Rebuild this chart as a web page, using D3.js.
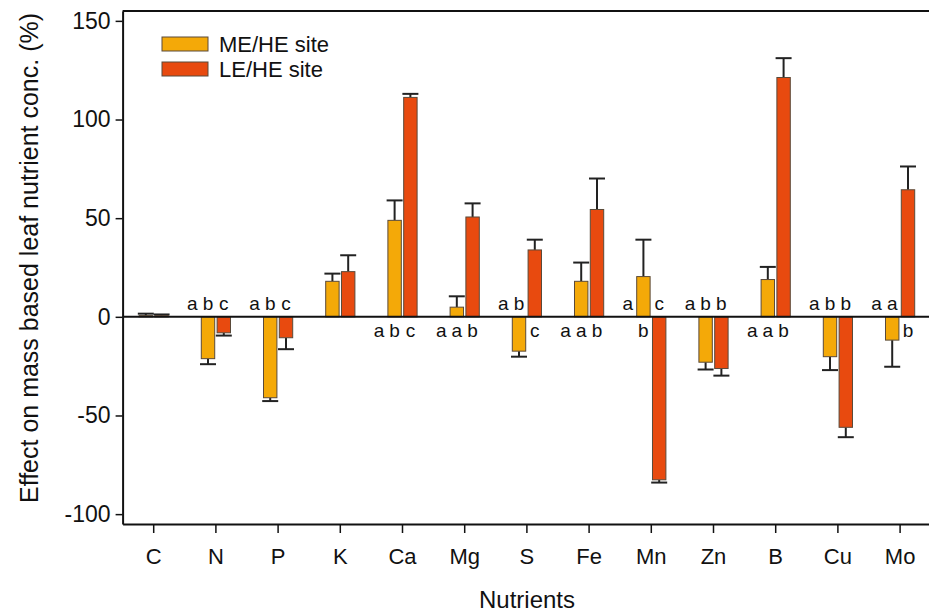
<!DOCTYPE html>
<html>
<head>
<meta charset="utf-8">
<script src="https://cdn.jsdelivr.net/npm/d3@7"></script>
<style>
  html, body { margin: 0; padding: 0; background: #fff; }
  svg text { font-family: "Liberation Sans", Arial, sans-serif; fill: #111; }
</style>
</head>
<body>
<svg id="chart" width="929" height="614"></svg>
<script>
// Nutrients on the x axis
const nutrients = ["C", "N", "P", "K", "Ca", "Mg", "S", "Fe", "Mn", "Zn", "B", "Cu", "Mo"];

// Effect (%) relative to the HE site, with one-sided standard errors
const meValues = [0.6, -21.2, -41.0, 18.0, 48.9, 4.9, -17.4, 18.0, 20.4, -23.0, 18.9, -20.2, -11.8];
const meErrors = [1.0, 2.8, 1.7, 3.9, 10.1, 5.5, 2.8, 9.5, 18.7, 3.7, 6.4, 6.8, 13.5];
const leValues = [0.6, -8.1, -10.6, 22.9, 111.2, 50.6, 33.9, 54.4, -82.6, -26.2, 121.3, -56.0, 64.4];
const leErrors = [0.6, 1.4, 5.8, 8.3, 1.8, 6.9, 5.2, 15.7, 1.4, 3.6, 9.8, 5.0, 11.8];

// Significance letters: [HE, ME, LE]
const letters = [
  null, ["a", "b", "c"], ["a", "b", "c"], null, ["a", "b", "c"], ["a", "a", "b"],
  ["a", "b", "c"], ["a", "a", "b"], ["a", "b", "c"], ["a", "b", "b"], ["a", "a", "b"],
  ["a", "b", "b"], ["a", "a", "b"]
];

const yTicks = [150, 100, 50, 0, -50, -100];
const seriesNames = ["ME/HE site", "LE/HE site"];
const seriesColors = ["#F4A908", "#E84A0F"];

const svg = d3.select("#chart");
const plotLeft = 122.6, plotTop = 11, plotBottom = 524, plotRight = 931.2;

const x = d3.scaleBand().domain(nutrients).range([plotLeft, plotRight]).padding(0);
const sub = d3.scaleBand().domain([0, 1]).range([-14.6, 14.6]).paddingInner(0.15);
const y = d3.scaleLinear().domain([-105, 155]).range([plotBottom, plotTop]);

const rows = nutrients.map((n, i) => ({
  n, i,
  bars: [
    { s: 0, v: meValues[i], e: meErrors[i] },
    { s: 1, v: leValues[i], e: leErrors[i] }
  ]
}));

// Bar groups, one per nutrient
const groups = svg.append("g").selectAll("g").data(rows).join("g")
  .attr("transform", d => `translate(${x(d.n) + x.bandwidth() / 2},0)`);

// Error bars (drawn away from zero, behind the bar body)
groups.selectAll("g.err").data(d => d.bars).join("g").attr("class", "err")
  .each(function (b) {
    const g = d3.select(this);
    const cx = sub(b.s) + sub.bandwidth() / 2;
    const end = b.v >= 0 ? b.v + b.e : b.v - b.e;
    g.append("line").attr("x1", cx).attr("x2", cx).attr("y1", y(b.v)).attr("y2", y(end))
      .attr("stroke", "#222").attr("stroke-width", 2);
    g.append("line").attr("x1", cx - 8).attr("x2", cx + 8).attr("y1", y(end)).attr("y2", y(end))
      .attr("stroke", "#222").attr("stroke-width", 2);
  });

groups.selectAll("rect").data(d => d.bars).join("rect")
  .attr("x", b => sub(b.s))
  .attr("width", sub.bandwidth())
  .attr("y", b => y(Math.max(0, b.v)))
  .attr("height", b => Math.abs(y(b.v) - y(0)))
  .attr("fill", b => seriesColors[b.s])
  .attr("stroke", "#5a4a3a")
  .attr("stroke-width", 1);

// Significance letters, placed on the side opposite to each bar
const letterG = svg.append("g").attr("font-size", 19);
rows.forEach(r => {
  const L = letters[r.i];
  if (!L) return;
  const cx = x(r.n) + x.bandwidth() / 2;
  const me = r.bars[0].v, le = r.bars[1].v;
  const heAbove = (me < 0 && le < 0) || (me * le < 0);
  const pos = [
    { t: L[0], dx: -23.5, above: heAbove },
    { t: L[1], dx: sub(0) + sub.bandwidth() / 2, above: me < 0 },
    { t: L[2], dx: sub(1) + sub.bandwidth() / 2, above: le < 0 }
  ];
  pos.forEach(p => {
    letterG.append("text")
      .attr("x", cx + p.dx)
      .attr("y", p.above ? y(0) - 7 : y(0) + 20)
      .attr("text-anchor", "middle")
      .text(p.t);
  });
});

// Zero reference line
svg.append("line").attr("x1", plotLeft).attr("x2", 929).attr("y1", y(0)).attr("y2", y(0))
  .attr("stroke", "#111").attr("stroke-width", 2);

// Frame top line
svg.append("line").attr("x1", plotLeft).attr("x2", 929).attr("y1", plotTop).attr("y2", plotTop)
  .attr("stroke", "#111").attr("stroke-width", 2);

// Y axis (plain hyphen for negative labels)
const yAxis = svg.append("g").attr("transform", `translate(${plotLeft},0)`)
  .call(d3.axisLeft(y).tickValues(yTicks).tickFormat(d => String(d))
    .tickSize(7).tickSizeOuter(0).tickPadding(5));
yAxis.select(".domain").attr("stroke", "#111").attr("stroke-width", 2);
yAxis.selectAll(".tick line").attr("stroke", "#111").attr("stroke-width", 1.5);
yAxis.selectAll(".tick text").attr("font-size", 23).attr("font-family", null).attr("fill", "#111");

// X axis
const xAxis = svg.append("g").attr("transform", `translate(0,${plotBottom})`)
  .call(d3.axisBottom(x).tickSize(9).tickSizeOuter(0).tickPadding(15));
xAxis.select(".domain").attr("stroke", "#111").attr("stroke-width", 2);
xAxis.selectAll(".tick line").attr("stroke", "#111").attr("stroke-width", 1.5);
xAxis.selectAll(".tick text").attr("font-size", 22).attr("font-family", null).attr("fill", "#111");

// Axis titles
svg.append("text").attr("x", 527).attr("y", 608).attr("text-anchor", "middle")
  .attr("font-size", 24).text("Nutrients");
svg.append("text").attr("transform", "translate(38,258) rotate(-90)")
  .attr("text-anchor", "middle").attr("font-size", 25)
  .text("Effect on mass based leaf nutrient conc. (%)");

// Legend
const legend = svg.append("g");
seriesNames.forEach((name, i) => {
  const ly = 37 + i * 25;
  legend.append("rect").attr("x", 162).attr("y", ly).attr("width", 46).attr("height", 14)
    .attr("fill", seriesColors[i]).attr("stroke", "#5a4a3a").attr("stroke-width", 1);
  legend.append("text").attr("x", 219).attr("y", ly + 14.5).attr("font-size", 22).text(name);
});
</script>
</body>
</html>
